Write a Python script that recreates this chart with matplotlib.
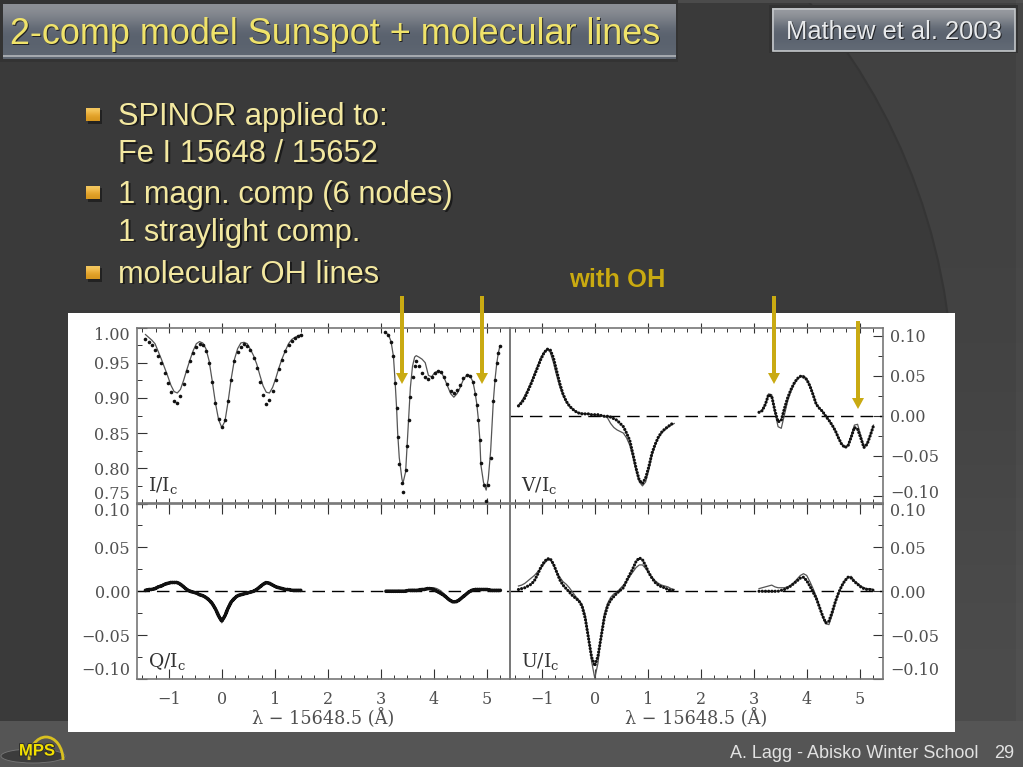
#!/usr/bin/python
# -*- coding:UTF-8 -*-
import numpy as np
import matplotlib
matplotlib.use('Agg')
import matplotlib.pyplot as plt
import matplotlib.patheffects as pe
from matplotlib.patches import Rectangle, Circle, Ellipse, Arc, Polygon
from matplotlib.ticker import MultipleLocator
from matplotlib.transforms import ScaledTranslation

# wavelength samples
wave1 = [-1.44,-1.38,-1.32,-1.26,-1.20,-1.14,-1.08,-1.02,-0.96,-0.90,-0.84,-0.78,-0.72,-0.66,-0.60,-0.54,-0.48,
         -0.42,-0.36,-0.30,-0.24,-0.18,-0.12,-0.06,0.00,0.06,0.12,0.18,0.24,0.30,0.36,0.42,0.48,0.54,0.60,0.66,
         0.72,0.78,0.84,0.90,0.96,1.02,1.08,1.14,1.20,1.26,1.32,1.38,1.44,1.50]
wave2 = [3.10,3.16,3.22,3.28,3.34,3.40,3.46,3.52,3.58,3.64,3.70,3.76,3.82,3.88,3.94,4.00,4.06,4.12,4.18,4.24,
         4.30,4.36,4.42,4.48,4.54,4.60,4.66,4.72,4.78,4.84,4.90,4.96,5.02,5.08,5.14,5.20,5.26]
# Stokes I second window is read on its own samples, the line cores are steep
wave_i2 = [3.08,3.145,3.195,3.24,3.27,3.30,3.32,3.35,3.40,3.42,3.47,3.50,3.53,3.56,3.60,3.64,3.67,3.72,3.78,3.84,
           3.90,3.96,4.02,4.08,4.14,4.20,4.26,4.32,4.38,4.44,4.50,4.56,4.62,4.68,4.74,4.78,4.81,4.84,4.87,4.89,
           4.94,4.99,5.03,5.075,5.125,5.16,5.19,5.22,5.25]

# observed (dots) and fit (line)
i_obs1 = [.983,.980,.975,.968,.960,.949,.936,.921,.908,.895,.893,.902,.920,.938,.952,.964,.973,.977,.975,.966,.950,.922,.893,.870,.859,
          .868,.895,.926,.952,.965,.972,.976,.974,.968,.957,.942,.923,.904,.892,.897,.910,.926,.941,.954,.966,.975,.981,.985,.988,.990]
i_fit1 = [.990,.986,.982,.977,.966,.955,.943,.931,.918,.909,.907,.912,.925,.940,.954,.967,.977,.980,.978,.970,.953,.924,.893,.869,.858,
          .867,.895,.928,.955,.970,.978,.979,.977,.969,.960,.948,.932,.917,.908,.907,.915,.928,.943,.956,.967,.977,.983,.986,.988,.990]
i_obs2 = [.993,.990,.980,.959,.921,.885,.844,.806,.779,.767,.797,.831,.869,.901,.930,.945,.952,.945,.936,.929,
          .927,.930,.935,.938,.937,.929,.920,.910,.907,.911,.919,.928,.932,.931,.922,.906,.890,.869,.840,.807,
          .776,.753,.776,.814,.895,.926,.949,.964,.974]
i_fit2 = [.993,.990,.980,.959,.925,.885,.850,.815,.785,.779,.795,.835,.875,.915,.945,.958,.960,.958,.955,.950,
          .932,.930,.936,.938,.937,.928,.917,.906,.901,.906,.915,.926,.932,.932,.923,.908,.893,.872,.842,.805,
          .780,.769,.785,.825,.895,.928,.949,.964,.974]

v_obs1 = [.012,.016,.022,.031,.040,.050,.060,.070,.078,.083,.082,.072,.056,.040,.027,.018,.012,.008,.005,.003,.002,.002,.002,.001,.001,
          .001,.000,-.001,-.001,-.002,-.004,-.006,-.010,-.014,-.022,-.031,-.048,-.066,-.081,-.085,-.078,-.064,-.047,-.036,-.027,-.021,-.017,-.014,-.011,-.009]
v_fit1 = [.013,.018,.025,.033,.042,.052,.062,.072,.079,.083,.079,.066,.050,.036,.025,.017,.012,.008,.005,.003,.003,.002,.002,.001,.001,
          .000,.000,-.001,-.003,-.010,-.015,-.018,-.020,-.022,-.028,-.037,-.052,-.069,-.083,-.088,-.083,-.068,-.050,-.037,-.028,-.022,-.018,-.015,-.012,-.010]
v_obs2 = [.004,.006,.014,.026,.024,.006,-.008,-.006,.009,.022,.032,.040,.046,.049,.048,.045,.037,.026,.014,.009,.005,-.001,-.006,-.012,-.019,
          -.028,-.036,-.040,-.038,-.027,-.015,-.017,-.028,-.040,-.036,-.025,-.013]
v_fit2 = [.004,.007,.014,.027,.026,.004,-.014,-.016,.001,.018,.030,.039,.045,.049,.050,.046,.038,.027,.014,.009,.005,-.001,-.006,-.012,-.019,
          -.028,-.036,-.040,-.037,-.026,-.012,-.011,-.025,-.039,-.035,-.024,-.012]

q_obs1 = [.001,.002,.002,.003,.005,.006,.008,.009,.010,.010,.010,.008,.005,.002,.000,-.001,-.002,-.004,-.005,-.007,-.010,-.014,-.020,-.028,-.034,
          -.028,-.019,-.012,-.008,-.005,-.004,-.003,-.002,-.001,.000,.002,.005,.008,.010,.009,.007,.005,.004,.003,.002,.002,.001,.001,.001,.001]
q_fit1 = [.001,.001,.002,.003,.004,.005,.007,.008,.009,.009,.009,.007,.004,.001,-.001,-.002,-.003,-.004,-.006,-.008,-.011,-.015,-.021,-.030,-.036,
          -.030,-.020,-.013,-.009,-.006,-.004,-.003,-.003,-.002,-.001,.001,.004,.007,.009,.009,.008,.006,.004,.002,.002,.001,.001,.001,.000,.000]
q_obs2 = [.000,.000,.000,.000,.000,.000,.000,.001,.001,.001,.001,.002,.002,.003,.003,.002,.000,-.002,-.004,-.007,-.010,-.012,-.012,-.010,-.007,
          -.004,-.001,.001,.002,.002,.002,.002,.002,.001,.001,.001,.001]
q_fit2 = [.000,.000,.000,.000,.001,.000,.000,.001,.002,.002,.001,.001,.002,.003,.003,.004,.003,.001,-.002,-.006,-.009,-.011,-.012,-.011,-.008,
          -.005,-.002,.000,.002,.003,.003,.002,.002,.002,.001,.001,.001]

u_obs1 = [.002,.003,.004,.006,.008,.012,.019,.027,.033,.037,.037,.031,.022,.013,.007,.003,-.001,-.005,-.008,-.011,-.017,-.031,-.053,-.075,-.085,
          -.074,-.052,-.030,-.017,-.010,-.006,-.002,.001,.004,.012,.019,.026,.034,.038,.036,.029,.021,.015,.010,.007,.005,.004,.002,.001,.001]
u_fit1 = [.006,.007,.009,.012,.015,.018,.022,.026,.031,.035,.036,.030,.022,.016,.011,.008,.004,-.001,-.006,-.010,-.015,-.027,-.050,-.080,-.099,
          -.082,-.050,-.026,-.014,-.007,-.003,-.001,.003,.007,.011,.017,.022,.027,.030,.030,.026,.021,.016,.012,.009,.007,.006,.005,.003,.002]
u_obs2 = [.000,.000,.000,.000,.000,.000,.000,.001,.002,.004,.006,.009,.012,.015,.016,.012,.006,-.001,-.008,-.018,-.028,-.036,-.034,-.024,-.012,
          -.002,.006,.012,.016,.015,.011,.008,.005,.003,.002,.002,.001]
u_fit2 = [.003,.004,.005,.006,.007,.005,.004,.004,.004,.005,.007,.010,.014,.018,.020,.018,.011,.003,-.006,-.017,-.029,-.037,-.038,-.027,-.013,
          -.003,.006,.012,.016,.017,.012,.009,.006,.004,.003,.003,.002]

x_ticks = [-1, 0, 1, 2, 3, 4, 5]
i_ticks = [0.75, 0.80, 0.85, 0.90, 0.95, 1.00]
p_ticks = [-0.10, -0.05, 0.00, 0.05, 0.10]

title = '2-comp model Sunspot + molecular lines'
ref = 'Mathew et al. 2003'
bullets = ['SPINOR applied to:', 'Fe I 15648 / 15652', '1 magn. comp (6 nodes)', '1 straylight comp.', 'molecular OH lines']
footer = 'A. Lagg - Abisko Winter School'

W, H = 1023, 767
SANS = 'Liberation Sans'
SERIF = 'DejaVu Serif'
INK = '#505050'
YELLOW = '#c9aa12'
plt.rcParams['mathtext.fontset'] = 'dejavuserif'

fig = plt.figure(figsize=(W / 100, H / 100), dpi=100)


def gradient(ax, x0, y0, x1, y1, colors):
    # vertical gradient box, colors from top to bottom
    rgb = np.array([matplotlib.colors.to_rgb(c) for c in colors])[:, None, :]
    ax.imshow(rgb, extent=(x0, x1, y1, y0), aspect='auto', interpolation='bicubic', zorder=2)


def shadow_text(ax, x, y, s, color, size, dx=1.5, weight='normal', ha='left', zorder=5):
    ax.text(x + dx, y + dx, s, color='#141414', fontsize=size, family=SANS, weight=weight, ha=ha, va='center',
            alpha=.8, zorder=zorder)
    ax.text(x, y, s, color=color, fontsize=size, family=SANS, weight=weight, ha=ha, va='center', zorder=zorder + 1)


# slide background in pixel coordinates
bg = fig.add_axes([0, 0, 1, 1])
bg.imshow(np.array([[[.255] * 3], [[.26] * 3], [[.30] * 3]]), extent=(0, W, H, 0), aspect='auto',
          interpolation='bicubic', zorder=0)
bg.add_patch(Circle((345, 395), 608, fc='#3a3a3a', ec='#353535', lw=1.5, zorder=1))
bg.add_patch(Rectangle((0, 721), W, 46, fc='#555555', ec='none', zorder=1))
bg.add_patch(Rectangle((0, 0), W, 2.5, fc='#4b4b4b', ec='none', zorder=1))
bg.add_patch(Rectangle((1016, 0), 7, 721, fc='#ffffff', alpha=.03, ec='none', zorder=1))

# title bars
bg.add_patch(Rectangle((0, 0), 678, 62, fc='#333333', ec='none', zorder=1))
gradient(bg, 3, 4, 676, 59, ['#8d9096', '#767b84', '#5b636f', '#59616d', '#5f6772'])
bg.add_patch(Rectangle((3, 55), 673, 2, fc='#a5a9ae', ec='none', zorder=3))
shadow_text(bg, 10, 34.5, title, '#f0e36a', 25.95, dx=1.2)
bg.add_patch(Rectangle((769, 5), 249, 48, fc='#333333', ec='none', zorder=1))
gradient(bg, 772, 8, 1015, 51, ['#989ba0', '#7d828a', '#5e6672', '#59616d', '#626a75'])
bg.add_patch(Rectangle((772.5, 8.5), 242, 42, fc='none', ec='#c4c7ca', lw=1.2, zorder=3))
shadow_text(bg, 786, 32, ref, '#e8eaec', 18.4, dx=1)

# bullets
bullet_y = [116.5, 154, 195, 232.5, 275]
for s, y in zip(bullets, bullet_y):
    shadow_text(bg, 118, y, s, '#f3e8a0', 22.2, dx=1.5)
for y in [115, 193, 273]:
    bg.add_patch(Rectangle((88, y - 5), 14, 14, fc='#1c1c1c', ec='none', alpha=.8, zorder=1.5))
    gradient(bg, 86, y - 7, 100, y + 6, ['#f4c860', '#e8a830', '#d89820'])

shadow_text(bg, 569, 280, 'with OH', YELLOW, 18.4, dx=0, weight='bold')

# white plot area
bg.add_patch(Rectangle((68, 313), 887, 419, fc='white', ec='none', zorder=3))

# footer
bg.text(978, 753, footer, color='#e2e2e2', fontsize=13, family=SANS, ha='right', va='center', zorder=5)
bg.text(1014, 753, '29', color='#e2e2e2', fontsize=13, family=SANS, ha='right', va='center', zorder=5)
bg.add_patch(Ellipse((33, 756), 64, 14, fc='#3c3c3c', ec='#777777', lw=.6, zorder=3))
bg.add_patch(Arc((46, 760), 34, 46, theta1=180, theta2=360, ec='#d8c020', lw=2, zorder=4))
bg.text(37, 751, 'MPS', color='#f2e000', fontsize=12, weight='bold', family=SANS, ha='center', va='center', zorder=5,
        path_effects=[pe.withStroke(linewidth=1.5, foreground='#303030')])
bg.set_xlim(0, W)
bg.set_ylim(H, 0)
bg.axis('off')


def panel(rect, limits, yticks, minor, side, dots, fit, label, label_y, zero=False, xlabel=False, dot_lw=2.3, gap=None, inset=True):
    x0, y0, x1, y1 = rect
    ax = fig.add_axes([x0 / W, 1 - y1 / H, (x1 - x0) / W, (y1 - y0) / H], facecolor='none')
    ax.set_zorder(2)
    for (wx, wy), (fx, fy) in zip(dots, fit):
        ax.plot(fx, fy, color='#555555', lw=.9, zorder=3)
        if gap is None:
            ax.plot(wx, wy, ls='none', marker='o', ms=dot_lw + .3, mfc='#111111', mec='none', zorder=4)
        else:
            # the polarisation profiles are sampled so densely that the dots run together
            ax.plot(wx, wy, color='#111111', lw=dot_lw, ls=(0, (.01, gap)), dash_capstyle='round', zorder=4)
    if zero:
        ax.axhline(0, color='black', lw=1, dashes=(9, 5), zorder=2)
    ax.set_xlim(-1.6, 5.44)
    ax.set_ylim(*limits)
    ax.set_xticks(x_ticks)
    ax.xaxis.set_minor_locator(MultipleLocator(.25))
    ax.set_yticks(yticks)
    ax.yaxis.set_minor_locator(MultipleLocator(minor))
    ax.tick_params(axis='x', which='major', direction='inout' if not xlabel else 'in', length=7, width=.8, color='#333333',
                   top=True, labelbottom=xlabel, labelsize=11.5, labelcolor=INK, pad=9)
    ax.tick_params(axis='x', which='minor', direction='in', length=3, width=.7, color='#333333', top=True)
    ax.tick_params(axis='y', which='major', direction='in', length=7, width=.8, color='#333333',
                   left=side == 'left', right=side == 'right', labelleft=side == 'left', labelright=side == 'right',
                   labelsize=11.5, labelcolor=INK, pad=5)
    ax.tick_params(axis='y', which='minor', direction='in', length=3.5, width=.7, color='#333333',
                   left=side == 'left', right=side == 'right')
    ax.set_yticklabels([f'{t:.2f}'.replace('-', '\u2212') for t in yticks], family=SERIF)
    ax.set_xticklabels([str(t).replace('-', '\u2212') for t in x_ticks], family=SERIF)
    labs = ax.get_yticklabels()
    if inset:
        # end labels sit inside the axis range, as in the IDL plot
        labs[0].set_va('bottom')
        labs[-1].set_va('top')
    else:
        # lift the lowest label clear of the panel below
        labs[0].set_transform(labs[0].get_transform() + ScaledTranslation(0, 3 / 72, fig.dpi_scale_trans))
    for s in ax.spines.values():
        s.set_color('#777777')
        s.set_linewidth(1.2)
    ax.text(.03, label_y, label, transform=ax.transAxes, family=SERIF, fontsize=13.5, color='#333333', va='center')
    if xlabel:
        ax.set_xlabel('\u03bb \u2212 15648.5 (\u00c5)', family=SERIF, fontsize=12.7, color=INK, labelpad=0)
    return ax


panel((137, 327.5, 510, 503.5), (.75, 1.0), i_ticks, .025, 'left',
      [(wave1, i_obs1), (wave_i2, i_obs2)], [(wave1, i_fit1), (wave_i2, i_fit2)], 'I/I$_{\\rm c}$', .105)
panel((510, 327.5, 883, 503.5), (-.11, .11), p_ticks, .025, 'right',
      [(wave1, v_obs1), (wave2, v_obs2)], [(wave1, v_fit1), (wave2, v_fit2)], 'V/I$_{\\rm c}$', .105, zero=True, gap=1.0, inset=False)
panel((137, 503.5, 510, 679), (-.10, .10), p_ticks, .025, 'left',
      [(wave1, q_obs1), (wave2, q_obs2)], [(wave1, q_fit1), (wave2, q_fit2)], 'Q/I$_{\\rm c}$', .10, zero=True, xlabel=True, dot_lw=2.7, gap=.5)
panel((510, 503.5, 883, 679), (-.10, .10), p_ticks, .025, 'right',
      [(wave1, u_obs1), (wave2, u_obs2)], [(wave1, u_fit1), (wave2, u_fit2)], 'U/I$_{\\rm c}$', .10, zero=True, xlabel=True, gap=1.0)

# arrows on top of the plots
top = fig.add_axes([0, 0, 1, 1], facecolor='none')
top.set_zorder(5)
top.set_xlim(0, W)
top.set_ylim(H, 0)
top.axis('off')
for ax_x, y0, y1 in [(402, 296, 384), (482, 296, 384), (774, 296, 384), (858, 321, 409)]:
    top.add_patch(Rectangle((ax_x - 1.8, y0), 3.6, y1 - y0 - 10, fc=YELLOW, ec='none'))
    top.add_patch(Polygon([(ax_x - 6, y1 - 11), (ax_x + 6, y1 - 11), (ax_x, y1)], fc=YELLOW, ec='none'))

plt.savefig('out.png', dpi=100)
